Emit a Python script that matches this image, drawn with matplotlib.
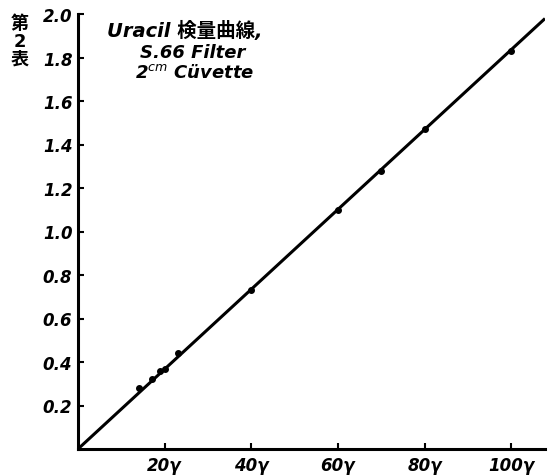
import matplotlib.pyplot as plt
import numpy as np

plt.rcParams['font.family'] = ['DejaVu Sans', 'Noto Sans CJK JP']

# readings (gamma of uracil vs extinction)
conc = [14, 17, 19, 20, 23, 40, 60, 70, 80, 100]
ext = [0.28, 0.32, 0.36, 0.37, 0.44, 0.73, 1.10, 1.28, 1.47, 1.83]

yticks = [0.2, 0.4, 0.6, 0.8, 1.0, 1.2, 1.4, 1.6, 1.8, 2.0]
ylabels = ['0.2', '0.4', '0.6', '0.8', '1.0', '1.2', '1.4', '1.6', '1.8', '2.0']
xticks = [20, 40, 60, 80, 100]
xlabels = ['20γ', '40γ', '60γ', '80γ', '100γ']

fig = plt.figure(figsize=(5.49, 4.77), dpi=100)
ax = fig.add_axes([78/549, 27/477, 467/549, 435/477])

# straight line through origin, least squares
x = np.array(conc)
y = np.array(ext)
k = np.sum(x*y) / np.sum(x*x)
xl = np.array([0, 107.8])
ax.plot(xl, k*xl, color='k', lw=2.2, solid_capstyle='butt')
ax.plot(conc, ext, 'o', color='k', ms=4)

ax.set_xlim(0, 107.8)
ax.set_ylim(0, 2.0)
ax.spines['top'].set_visible(False)
ax.spines['right'].set_visible(False)
ax.spines['left'].set_linewidth(2.2)
ax.spines['bottom'].set_linewidth(2.2)

ax.set_yticks(yticks)
ax.set_yticklabels(ylabels, fontsize=12, fontweight='bold', style='italic')
ax.set_xticks(xticks)
ax.set_xticklabels(xlabels, fontsize=12, fontweight='bold', style='italic')
ax.tick_params(direction='in', length=4, width=1.5, pad=4)
ax.tick_params(axis='x', pad=5)

fig.text(107/549, 1 - 31/477, 'Uracil 検量曲線,', fontsize=14, style='italic',
         fontweight='bold', va='center', ha='left')
fig.text(140/549, 1 - 53/477, 'S.66 Filter', fontsize=13, style='italic',
         fontweight='bold', va='center', ha='left')
fig.text(135/549, 1 - 73/477, '2$^{cm}$ Cüvette', fontsize=13, style='italic',
         fontweight='bold', va='center', ha='left')
fig.text(20/549, 1 - 42/477, '第\n2\n表', fontsize=13, fontweight='bold',
         va='center', ha='center', linespacing=1.0)

fig.savefig('out.png', dpi=100)
